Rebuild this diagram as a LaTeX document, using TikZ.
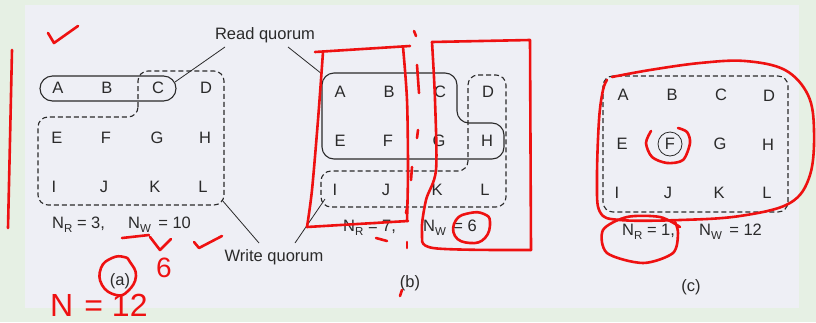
\documentclass[tikz,border=0pt]{standalone}
\usepackage{fontspec}
\setmainfont{Liberation Sans}
\usetikzlibrary{calc}
\definecolor{outerbg}{HTML}{E6F0E4}
\definecolor{pagebg}{HTML}{EEEFF5}
\definecolor{ink}{HTML}{2A2A2A}
\definecolor{pen}{HTML}{EE1111}
\newcommand\lowsub[1]{\raisebox{-0.42ex}{\fontsize{11.5}{12}\selectfont #1}}
\tikzset{
  lt/.style={text=ink, font=\fontsize{16.5}{18}\selectfont, inner sep=0pt, anchor=center},
  lbl/.style={text=ink, font=\fontsize{16.5}{18}\selectfont, inner sep=0pt},
  solidq/.style={draw=ink, line width=1.1pt, rounded corners=12},
  dashq/.style={draw=ink, line width=1.1pt, dash pattern=on 5pt off 3pt, rounded corners=10},
  leader/.style={draw=ink, line width=0.8pt},
  redpen/.style={draw=pen, line width=2.6pt, line cap=round, line join=round},
  redtxt/.style={text=pen, inner sep=0pt},
}
\begin{document}
\begin{tikzpicture}[x=1pt,y=-1pt]
\useasboundingbox (0,0) rectangle (816,322);
\fill[outerbg] (0,0) rectangle (816,322);
\fill[pagebg] (25,5) rectangle (799,308);

% ---------- panel (a) ----------
\node[lt] (aA) at (58,88) {A};
\node[lt] (aB) at (107,88) {B};
\node[lt] (aC) at (158,88) {C};
\node[lt] (aD) at (206,88) {D};
\node[lt] (aE) at (57,138) {E};
\node[lt] (aF) at (106,138) {F};
\node[lt] (aG) at (157,138) {G};
\node[lt] (aH) at (205,138) {H};
\node[lt] (aI) at (54,187) {I};
\node[lt] (aJ) at (104,187) {J};
\node[lt] (aK) at (155,187) {K};
\node[lt] (aL) at (203,187) {L};
\draw[solidq, rounded corners=12.5] (40,76) rectangle (176,101);
\draw[dashq] (138,117) -- (138,71) -- (224,71) -- (224,205) -- (38,205) -- (38,117) -- cycle;
\node[lbl, anchor=west] (aNR) at (52,225) {N\lowsub{R} = 3,};
\node[lbl, anchor=west] (aNW) at (128,225) {N\lowsub{W} \,= 10};
\node[lbl] (acap) at (120,281) {(a)};

% ---------- labels ----------
\node[lbl] (rq) at (265,35) {Read quorum};
\node[lbl] (wq) at (274,257) {Write quorum};
\coordinate (rqs1) at (225,47);
\coordinate (rqs2) at (288,47);
\coordinate (rqa) at (175,82);
\coordinate (rqb) at (322,74);
\coordinate (wqs1) at (259,243);
\coordinate (wqs2) at (295,243);
\coordinate (wqa) at (222,200);
\coordinate (wqb) at (325,199);
\draw[leader] (rqs1) -- (rqa);
\draw[leader] (rqs2) -- (rqb);
\draw[leader] (wqs1) -- (wqa);
\draw[leader] (wqs2) -- (wqb);

% ---------- panel (b) ----------
\node[lt] (bA) at (340,92) {A};
\node[lt] (bB) at (389,92) {B};
\node[lt] (bC) at (440,92) {C};
\node[lt] (bD) at (488,92) {D};
\node[lt] (bE) at (340,141) {E};
\node[lt] (bF) at (388,141) {F};
\node[lt] (bG) at (439,141) {G};
\node[lt] (bH) at (487,141) {H};
\node[lt] (bI) at (335,190) {I};
\node[lt] (bJ) at (386,190) {J};
\node[lt] (bK) at (437,190) {K};
\node[lt] (bL) at (485,190) {L};
\draw[solidq] (322,73) -- (457,73) -- (457,123) -- (504,123) -- (504,159) -- (322,159) -- cycle;
\draw[dashq] (468,75) -- (506,75) -- (506,207) -- (321,207) -- (321,171) -- (468,171) -- cycle;
\node[lbl, anchor=west] (bNR) at (343,228) {N\lowsub{R} = 7,};
\node[lbl, anchor=west] (bNW) at (423,228) {N\lowsub{W} \,= 6};
\node[lbl] (bcap) at (410,283) {(b)};

% ---------- panel (c) ----------
\node[lt] (cA) at (623,95) {A};
\node[lt] (cB) at (672,95) {B};
\node[lt] (cC) at (721,95) {C};
\node[lt] (cD) at (769,96) {D};
\node[lt] (cE) at (622,144) {E};
\node[lt, draw=ink, circle, line width=0.8pt, minimum size=24pt] (cF) at (670,144) {F};
\node[lt] (cG) at (720,144) {G};
\node[lt] (cH) at (768,145) {H};
\node[lt] (cI) at (617,193) {I};
\node[lt] (cJ) at (668,193) {J};
\node[lt] (cK) at (719,193) {K};
\node[lt] (cL) at (767,193) {L};
\draw[dashq] (603,76) rectangle (788,212);
\node[lbl, anchor=west] (cNR) at (622,232) {N\lowsub{R} = 1,};
\node[lbl, anchor=west] (cNW) at (699,232) {N\lowsub{W} \,= 12};
\node[lbl] (ccap) at (691,287) {(c)};

% ---------- red handwriting ----------
% panel (a)
\draw[redpen] plot[smooth] coordinates {(12,50) (10,140) (8,228)};
\draw[redpen] (48,33) -- (54,43) -- (78,26);
\draw[redpen] (122,238) -- (149,235);
\draw[redpen] (150,237) -- (160,250) -- (171,239);
\draw[redpen] (194,242) -- (199,248) -- (222,236);
\node[redtxt, font=\fontsize{28}{30}\selectfont] (six) at (164,268) {6};
\draw[redpen] plot[smooth cycle, tension=0.8] coordinates {(130,262) (136,276) (128,291) (116,295) (102,285) (101,268) (112,258) (124,257)};
\node[redtxt, font=\fontsize{32}{34}\selectfont, anchor=west] (nn) at (50,305) {N\hspace{11pt}=\hspace{9pt}12};
% panel (b)
\draw[redpen] (315,52) -- (410,46);
\draw[redpen] plot[smooth] coordinates {(323,52) (318,120) (312,190) (307,227)};
\draw[redpen] (307,227) -- (408,221);
\draw[redpen] plot[smooth] coordinates {(403,47) (407,100) (408,170) (407,221)};
\draw[redpen] (414,31) -- (416,36);
\draw[redpen] (417,65) -- (419,93);
\draw[redpen] (418,130) -- (417,138);
\draw[redpen] (412,167) -- (411,180);
\draw[redpen] (407,208) -- (406,213);
\draw[redpen] (407,242) -- (407,248);
\draw[redpen] (376,238) -- (387,241);
\draw[redpen] (402,290) -- (400,296);
\draw[redpen] plot[smooth] coordinates {(432,42) (435,100) (436,170) (426,200) (422,232) (433,248) (531,250)};
\draw[redpen] (531,250) -- (530,40) -- (432,42);
\draw[redpen] plot[smooth cycle, tension=0.8] coordinates {(490,222) (485,238) (470,243) (455,236) (456,220) (470,213) (484,214)};
% panel (c)
\draw[redpen] plot[smooth, tension=0.6] coordinates {(612,77) (650,70) (700,63) (745,61) (785,70) (808,95) (814,130) (810,175) (790,203) (740,216) (680,220) (620,220) (600,212) (597,180) (599,120) (603,90) (607,80)};
\draw[redpen] plot[smooth] coordinates {(651,131) (646,143) (652,157) (667,163) (683,160) (690,143) (687,132) (678,128)};
\draw[redpen] plot[smooth] coordinates {(680,227) (660,217) (627,217) (603,230) (607,253) (643,263) (673,253) (678,233) (675,222)};
\end{tikzpicture}
\end{document}
